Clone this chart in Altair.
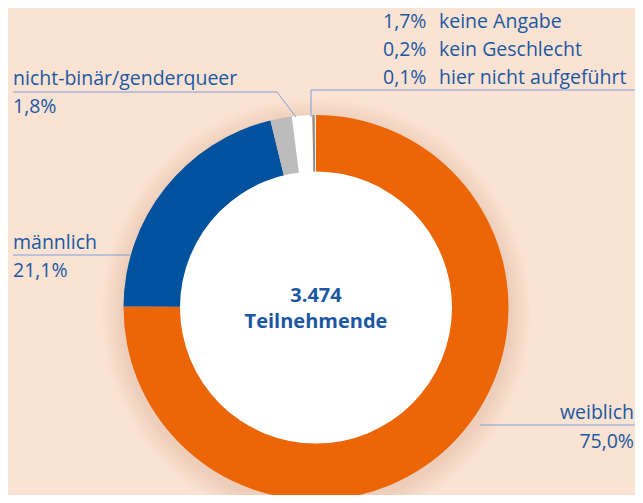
import altair as alt
import pandas as pd

# ---- data ----
categories = ["weiblich", "männlich", "nicht-binär/genderqueer",
              "keine Angabe", "kein Geschlecht", "hier nicht aufgeführt"]
shares = [75.0, 21.1, 1.8, 1.7, 0.2, 0.1]
share_labels = ["75,0%", "21,1%", "1,8%", "1,7%", "0,2%", "0,1%"]
colors = ["#ec6608", "#00519e", "#bcbcbc", "#ffffff", "#9b8478", "#f4f4f4"]
total_label = "3.474"
total_caption = "Teilnehmende"

# ---- layout constants (chart pixel space; page margin 8px) ----
OFF = 8
CX, CY = 316 - OFF, 307.5 - OFF
R_OUT, R_IN = 192.5, 135.5
TEXT_COLOR = "#1b58a3"
LINE_COLOR = "#7f9edb"
FONT = "Open Sans"
BG = "#fbe3d3"
FS = 19.5

df = pd.DataFrame({"cat": categories, "share": shares,
                   "idx": list(range(len(categories)))})

# soft shadow behind donut (vega circle size = (2r)^2)
shadow_radii = [214, 211, 208, 205, 202, 199, 196]
shadow = alt.Chart(pd.DataFrame({"r": shadow_radii})).transform_calculate(
    size="4 * datum.r * datum.r"
).mark_circle(color="#c98f6a", opacity=0.035).encode(
    x=alt.value(CX), y=alt.value(CY + 5),
    size=alt.Size("size:Q", scale=None, legend=None),
)

donut = alt.Chart(df).mark_arc(
    innerRadius=R_IN, outerRadius=R_OUT, x=CX, y=CY, stroke=None
).encode(
    theta=alt.Theta("share:Q", stack=True),
    color=alt.Color("cat:N", scale=alt.Scale(domain=categories, range=colors), legend=None),
    order=alt.Order("idx:Q"),
)

hole = alt.Chart(pd.DataFrame({"r": [R_IN + 0.5]})).transform_calculate(
    size="4 * datum.r * datum.r"
).mark_circle(color="white", opacity=1).encode(
    x=alt.value(CX), y=alt.value(CY),
    size=alt.Size("size:Q", scale=None, legend=None),
)

# leader lines (reference pixel coords)
rules_df = pd.DataFrame({
    "x":  [311, 311, 13, 277, 13, 480],
    "y":  [90, 90, 92, 92, 255, 425],
    "x2": [643, 311, 277, 296, 130, 643],
    "y2": [90, 117, 92, 117, 255, 425],
})
for c in ["x", "y", "x2", "y2"]:
    rules_df[c] = rules_df[c] - OFF
rules = alt.Chart(rules_df).mark_rule(color=LINE_COLOR, strokeWidth=1).encode(
    x=alt.X("x:Q", scale=None, axis=None), y=alt.Y("y:Q", scale=None, axis=None),
    x2="x2:Q", y2="y2:Q",
)

# labels
left_df = pd.DataFrame({
    "t": [share_labels[3], categories[3], share_labels[4], categories[4],
          share_labels[5], categories[5],
          categories[2], share_labels[2], categories[1], share_labels[1]],
    "x": [383, 439, 383, 439, 383, 439, 13, 13, 13, 13],
    "y": [27.5, 27.5, 55.5, 55.5, 83.5, 83.5, 85, 113, 249, 277],
})
right_df = pd.DataFrame({
    "t": [categories[0], share_labels[0]],
    "x": [634, 634],
    "y": [419, 448],
})
center_df = pd.DataFrame({"t": [total_label, total_caption], "x": [316, 316], "y": [302, 328]})
for d in (left_df, right_df, center_df):
    d["x"] = d["x"] - OFF
    d["y"] = d["y"] - OFF


def text_layer(d, align, size, weight):
    return alt.Chart(d).mark_text(
        align=align, baseline="alphabetic", font=FONT, fontSize=size,
        fontWeight=weight, color=TEXT_COLOR,
    ).encode(
        x=alt.X("x:Q", scale=None, axis=None), y=alt.Y("y:Q", scale=None, axis=None),
        text="t:N",
    )


chart = alt.layer(
    shadow, donut, hole, rules,
    text_layer(left_df, "left", FS, "normal"),
    text_layer(right_df, "right", FS, "normal"),
    text_layer(center_df, "center", 20, "bold"),
).properties(
    width=643 - 2 * OFF, height=503 - 2 * OFF,
    background=BG, padding=0, autosize=alt.AutoSizeParams(type="none"),
).configure_view(stroke=None)

chart.save("out.html", embed_options={"renderer": "svg", "actions": False})
